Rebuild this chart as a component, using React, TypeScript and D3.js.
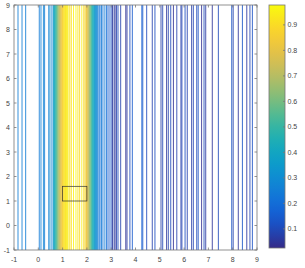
import React from "react";
import * as d3 from "d3";

// contour line positions (x) and their levels
const lineX = [
  -0.835, -0.67, -0.52, 0.04, 0.11, 0.21, 0.26, 0.43, 0.48, 0.56,
  0.62, 0.645, 0.67, 0.695, 0.72, 0.745, 0.77, 0.795, 0.82, 0.845,
  0.87, 0.895, 0.92, 0.945, 0.97, 0.995, 1.02, 1.045, 1.07, 1.095,
  1.12, 1.145, 1.17, 1.2, 1.26, 1.3, 1.36, 1.45, 1.55, 1.63,
  1.7, 1.79, 1.87, 1.92, 1.96, 1.985, 2.01, 2.035, 2.06, 2.085,
  2.11, 2.135, 2.16, 2.185, 2.21, 2.235, 2.26, 2.285, 2.31, 2.335,
  2.36, 2.39, 2.42, 2.45, 2.5, 2.54, 2.6, 2.66, 2.74, 2.81,
  2.87, 2.95, 3.03, 3.05, 3.12, 3.16, 3.22, 3.28, 3.39, 3.6,
  3.65, 3.77, 3.87, 4.26, 4.3, 4.46, 4.69, 4.8, 5.05, 5.12,
  5.28, 5.35, 5.45, 5.56, 5.7, 5.87, 5.91, 6.04, 6.13, 6.31,
  6.38, 6.52, 6.58, 6.72, 6.82, 6.89, 7.16, 7.41, 7.96, 8.02,
  8.23, 8.4, 8.58, 8.71, 8.81,
];
const lineLevel = [
  0.25, 0.25, 0.25, 0.24, 0.26, 0.28, 0.25, 0.27, 0.3, 0.26,
  0.36, 0.39, 0.42, 0.45, 0.48, 0.52, 0.56, 0.6, 0.64, 0.68,
  0.71, 0.74, 0.77, 0.8, 0.83, 0.86, 0.88, 0.9, 0.91, 0.92,
  0.93, 0.93, 0.94, 0.94, 0.95, 0.9, 0.92, 0.96, 0.97, 0.92,
  0.9, 0.95, 0.9, 0.88, 0.86, 0.83, 0.8, 0.77, 0.74, 0.7,
  0.66, 0.62, 0.58, 0.54, 0.5, 0.46, 0.43, 0.4, 0.37, 0.34,
  0.32, 0.3, 0.28, 0.26, 0.24, 0.2, 0.24, 0.22, 0.24, 0.2,
  0.15, 0.14, 0.12, 0.05, 0.07, 0.04, 0.08, 0.1, 0.08, 0.04,
  0.06, 0.1, 0.14, 0.16, 0.14, 0.1, 0.08, 0.11, 0.07, 0.09,
  0.05, 0.08, 0.1, 0.04, 0.08, 0.07, 0.09, 0.11, 0.08, 0.07,
  0.09, 0.1, 0.12, 0.04, 0.1, 0.06, 0.05, 0.1, 0.12, 0.08,
  0.05, 0.13, 0.06, 0.09, 0.12,
];

// rectangle (x0, x1, y0, y1)
const rectX = [1, 2];
const rectY = [1, 1.6];

const xTicks = [-1, 0, 1, 2, 3, 4, 5, 6, 7, 8, 9];
const yTicks = [-1, 0, 1, 2, 3, 4, 5, 6, 7, 8, 9];
const cTicks = [0.1, 0.2, 0.3, 0.4, 0.5, 0.6, 0.7, 0.8, 0.9];
const cDomain = [0.025, 0.978];

const parulaStops = [
  "#352a87", "#0f5cdd", "#1481d6", "#06a4ca", "#2eb7a4",
  "#87bf77", "#d1bb59", "#fec832", "#f9fb0e",
];

export default function App() {
  const W = 305, H = 268;
  const left = 14, right = 257, top = 5, bottom = 250;
  const cbL = 269, cbR = 285, cbT = 5, cbB = 248;

  const x = d3.scaleLinear().domain([-1, 9]).range([left, right]);
  const y = d3.scaleLinear().domain([-1, 9]).range([bottom, top]);
  const interp = d3.interpolateRgbBasis(parulaStops);
  const color = (v: number) => interp((v - cDomain[0]) / (cDomain[1] - cDomain[0]));
  const cy = d3.scaleLinear().domain(cDomain).range([cbB, cbT]);

  const gradStops = d3.range(0, 1.0001, 0.05);
  const axisColor = "#777";
  const textColor = "#444";
  const font = "'Liberation Sans', Arial, sans-serif";
  const tl = 2.5;

  return (
    <svg width={W} height={H} style={{ position: "absolute", left: 0, top: 0, background: "#fff" }}>
      <defs>
        <linearGradient id="cb" x1="0" y1="1" x2="0" y2="0">
          {gradStops.map((t) => (
            <stop key={t} offset={t} stopColor={interp(t)} />
          ))}
        </linearGradient>
        <clipPath id="plot">
          <rect x={left} y={top} width={right - left} height={bottom - top} />
        </clipPath>
      </defs>
      <rect x={left} y={top} width={right - left} height={bottom - top} fill="#fff" />
      <g clipPath="url(#plot)">
        {lineX.map((lx, i) => (
          <line
            key={i}
            x1={x(lx)}
            x2={x(lx)}
            y1={y(-1)}
            y2={y(9)}
            stroke={color(lineLevel[i])}
            strokeWidth={0.85}
          />
        ))}
      </g>
      <rect
        x={x(rectX[0])}
        y={y(rectY[1])}
        width={x(rectX[1]) - x(rectX[0])}
        height={y(rectY[0]) - y(rectY[1])}
        fill="none"
        stroke="#333"
        strokeWidth={0.7}
      />
      {/* axes box */}
      <rect x={left} y={top} width={right - left} height={bottom - top} fill="none" stroke={axisColor} strokeWidth={0.8} />
      {xTicks.map((t) => (
        <g key={"x" + t}>
          <line x1={x(t)} x2={x(t)} y1={bottom} y2={bottom - tl} stroke={axisColor} strokeWidth={0.8} />
          <line x1={x(t)} x2={x(t)} y1={top} y2={top + tl} stroke={axisColor} strokeWidth={0.8} />
          <text x={x(t)} y={bottom + 11.5} textAnchor="middle" fontSize={7} fontFamily={font} fill={textColor}>
            {t}
          </text>
        </g>
      ))}
      {yTicks.map((t) => (
        <g key={"y" + t}>
          <line x1={left} x2={left + tl} y1={y(t)} y2={y(t)} stroke={axisColor} strokeWidth={0.8} />
          <line x1={right} x2={right - tl} y1={y(t)} y2={y(t)} stroke={axisColor} strokeWidth={0.8} />
          <text x={10} y={y(t) + 2.5} textAnchor="end" fontSize={7} fontFamily={font} fill={textColor}>
            {t}
          </text>
        </g>
      ))}
      {/* colorbar */}
      <rect x={cbL} y={cbT} width={cbR - cbL} height={cbB - cbT} fill="url(#cb)" stroke={axisColor} strokeWidth={0.8} />
      {cTicks.map((t) => (
        <g key={"c" + t}>
          <line x1={cbR} x2={cbR - 2} y1={cy(t)} y2={cy(t)} stroke={axisColor} strokeWidth={0.8} />
          <text x={cbR + 2.5} y={cy(t) + 2.5} fontSize={7} fontFamily={font} fill={textColor}>
            {t}
          </text>
        </g>
      ))}
    </svg>
  );
}
